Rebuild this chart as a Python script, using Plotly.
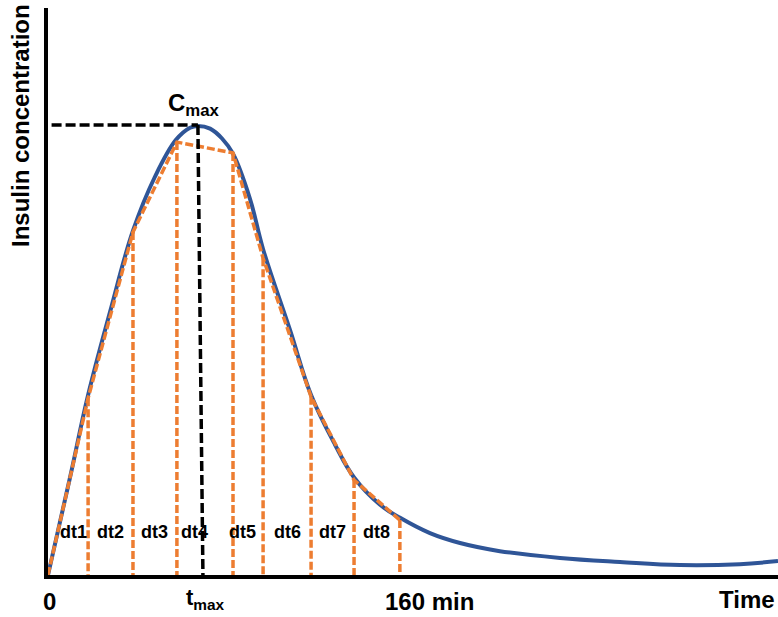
import plotly.graph_objects as go

# ---- data (time in minutes, concentration in arbitrary units, peak = 100) ----
curve_time = [0, 9.2, 16.8, 26.0, 35.6, 44.8, 53.6, 59.5, 62.8, 67.9, 72.9, 77.5, 84.6,
              90.1, 101.4, 110.2, 120.3, 128.3, 139.1, 147.5, 160.0, 172.6, 189.3,
              214.5, 239.6, 264.7, 289.8, 305.8]
curve_conc = [0, 21.6, 40.0, 58.5, 76.5, 88.5, 96.7, 99.4, 99.8, 99.2, 97.0, 93.6, 83.6,
              72.4, 54.4, 40.0, 28.9, 21.6, 15.6, 12.7, 9.3, 7.1, 5.3,
              3.8, 2.9, 2.2, 2.4, 3.1]

sample_time = [0, 16.8, 35.6, 54.0, 77.5, 90.1, 110.2, 128.2, 147.4]
sample_conc = [0, 39.3, 76.2, 96.2, 93.8, 70.4, 39.6, 21.1, 12.2]
interval_labels = ["dt1", "dt2", "dt3", "dt4", "dt5", "dt6", "dt7", "dt8"]

t_max = 62.8
t_max_base = 64.9
c_max = 100.0
x_tick_labels = {"0": 0, "160 min": 160}

X_MAX = 305.8
Y_MAX = 126.0

BLUE = "#2F5597"
ORANGE = "#ED7D31"
FONT = "Liberation Sans"

fig = go.Figure()

# smooth insulin curve
fig.add_trace(go.Scatter(x=curve_time, y=curve_conc, mode="lines",
                         line=dict(color=BLUE, width=4, shape="spline", smoothing=1.1),
                         hoverinfo="skip", showlegend=False))

# vertical dashed lines from samples to axis
for t, c in zip(sample_time[1:], sample_conc[1:]):
    fig.add_trace(go.Scatter(x=[t, t], y=[c, 0], mode="lines",
                             line=dict(color=ORANGE, width=3.5, dash="8px,3px"),
                             hoverinfo="skip", showlegend=False))

# trapezoid top polyline
fig.add_trace(go.Scatter(x=sample_time, y=sample_conc, mode="lines",
                         line=dict(color=ORANGE, width=3.5, dash="8px,3px"),
                         hoverinfo="skip", showlegend=False))

# Cmax / tmax guides
fig.add_trace(go.Scatter(x=[1.5, t_max], y=[c_max, c_max], mode="lines",
                         line=dict(color="black", width=3.5, dash="10px,4px"),
                         hoverinfo="skip", showlegend=False))
fig.add_trace(go.Scatter(x=[t_max, t_max_base], y=[c_max, 0], mode="lines",
                         line=dict(color="black", width=3.5, dash="10px,4px"),
                         hoverinfo="skip", showlegend=False))

annotations = []
label_shift = [5, 0, 0, -10, -6, 0, 0, 0]
for i, lab in enumerate(interval_labels):
    mid = (sample_time[i] + sample_time[i + 1]) / 2
    annotations.append(dict(x=mid, y=9.6, xref="x", yref="y", text=lab, showarrow=False,
                            xshift=label_shift[i],
                            font=dict(family=FONT, size=18, color="black", weight="bold")))

for txt, xv in x_tick_labels.items():
    annotations.append(dict(x=xv, y=0, xref="x", yref="y", text=txt, showarrow=False,
                            yanchor="top", yshift=-11, xshift=(1 if xv == 0 else 0),
                            font=dict(family=FONT, size=24, color="black", weight="bold")))

annotations.append(dict(x=(t_max + t_max_base) / 2 + 2, y=0, xref="x", yref="y",
                        text="t<sub>max</sub>", showarrow=False, yanchor="top", yshift=-8,
                        font=dict(family=FONT, size=22, color="black", weight="bold")))
annotations.append(dict(x=t_max, y=c_max, xref="x", yref="y",
                        text="C<sub>max</sub>", showarrow=False, yanchor="bottom", yshift=3,
                        xshift=-4,
                        font=dict(family=FONT, size=24, color="black", weight="bold")))
annotations.append(dict(x=1, y=0, xref="paper", yref="y", text="Time", showarrow=False,
                        xanchor="right", yanchor="top", yshift=-9, xshift=-1,
                        font=dict(family=FONT, size=24, color="black", weight="bold")))
annotations.append(dict(x=0, y=1, xref="paper", yref="paper", text="Insulin concentration",
                        showarrow=False, textangle=-90, xanchor="right", yanchor="top",
                        xshift=-12, yshift=6,
                        font=dict(family=FONT, size=24, color="black", weight="bold")))

fig.update_layout(
    width=778, height=617,
    margin=dict(l=48, r=0, t=8, b=42),
    plot_bgcolor="white", paper_bgcolor="white",
    xaxis=dict(range=[0, X_MAX], showline=True, linecolor="black", linewidth=3.5,
               showgrid=False, zeroline=False, showticklabels=False, ticks=""),
    yaxis=dict(range=[0, Y_MAX], showline=True, linecolor="black", linewidth=3.5,
               showgrid=False, zeroline=False, showticklabels=False, ticks=""),
    annotations=annotations,
)

fig.write_html("out.html")
